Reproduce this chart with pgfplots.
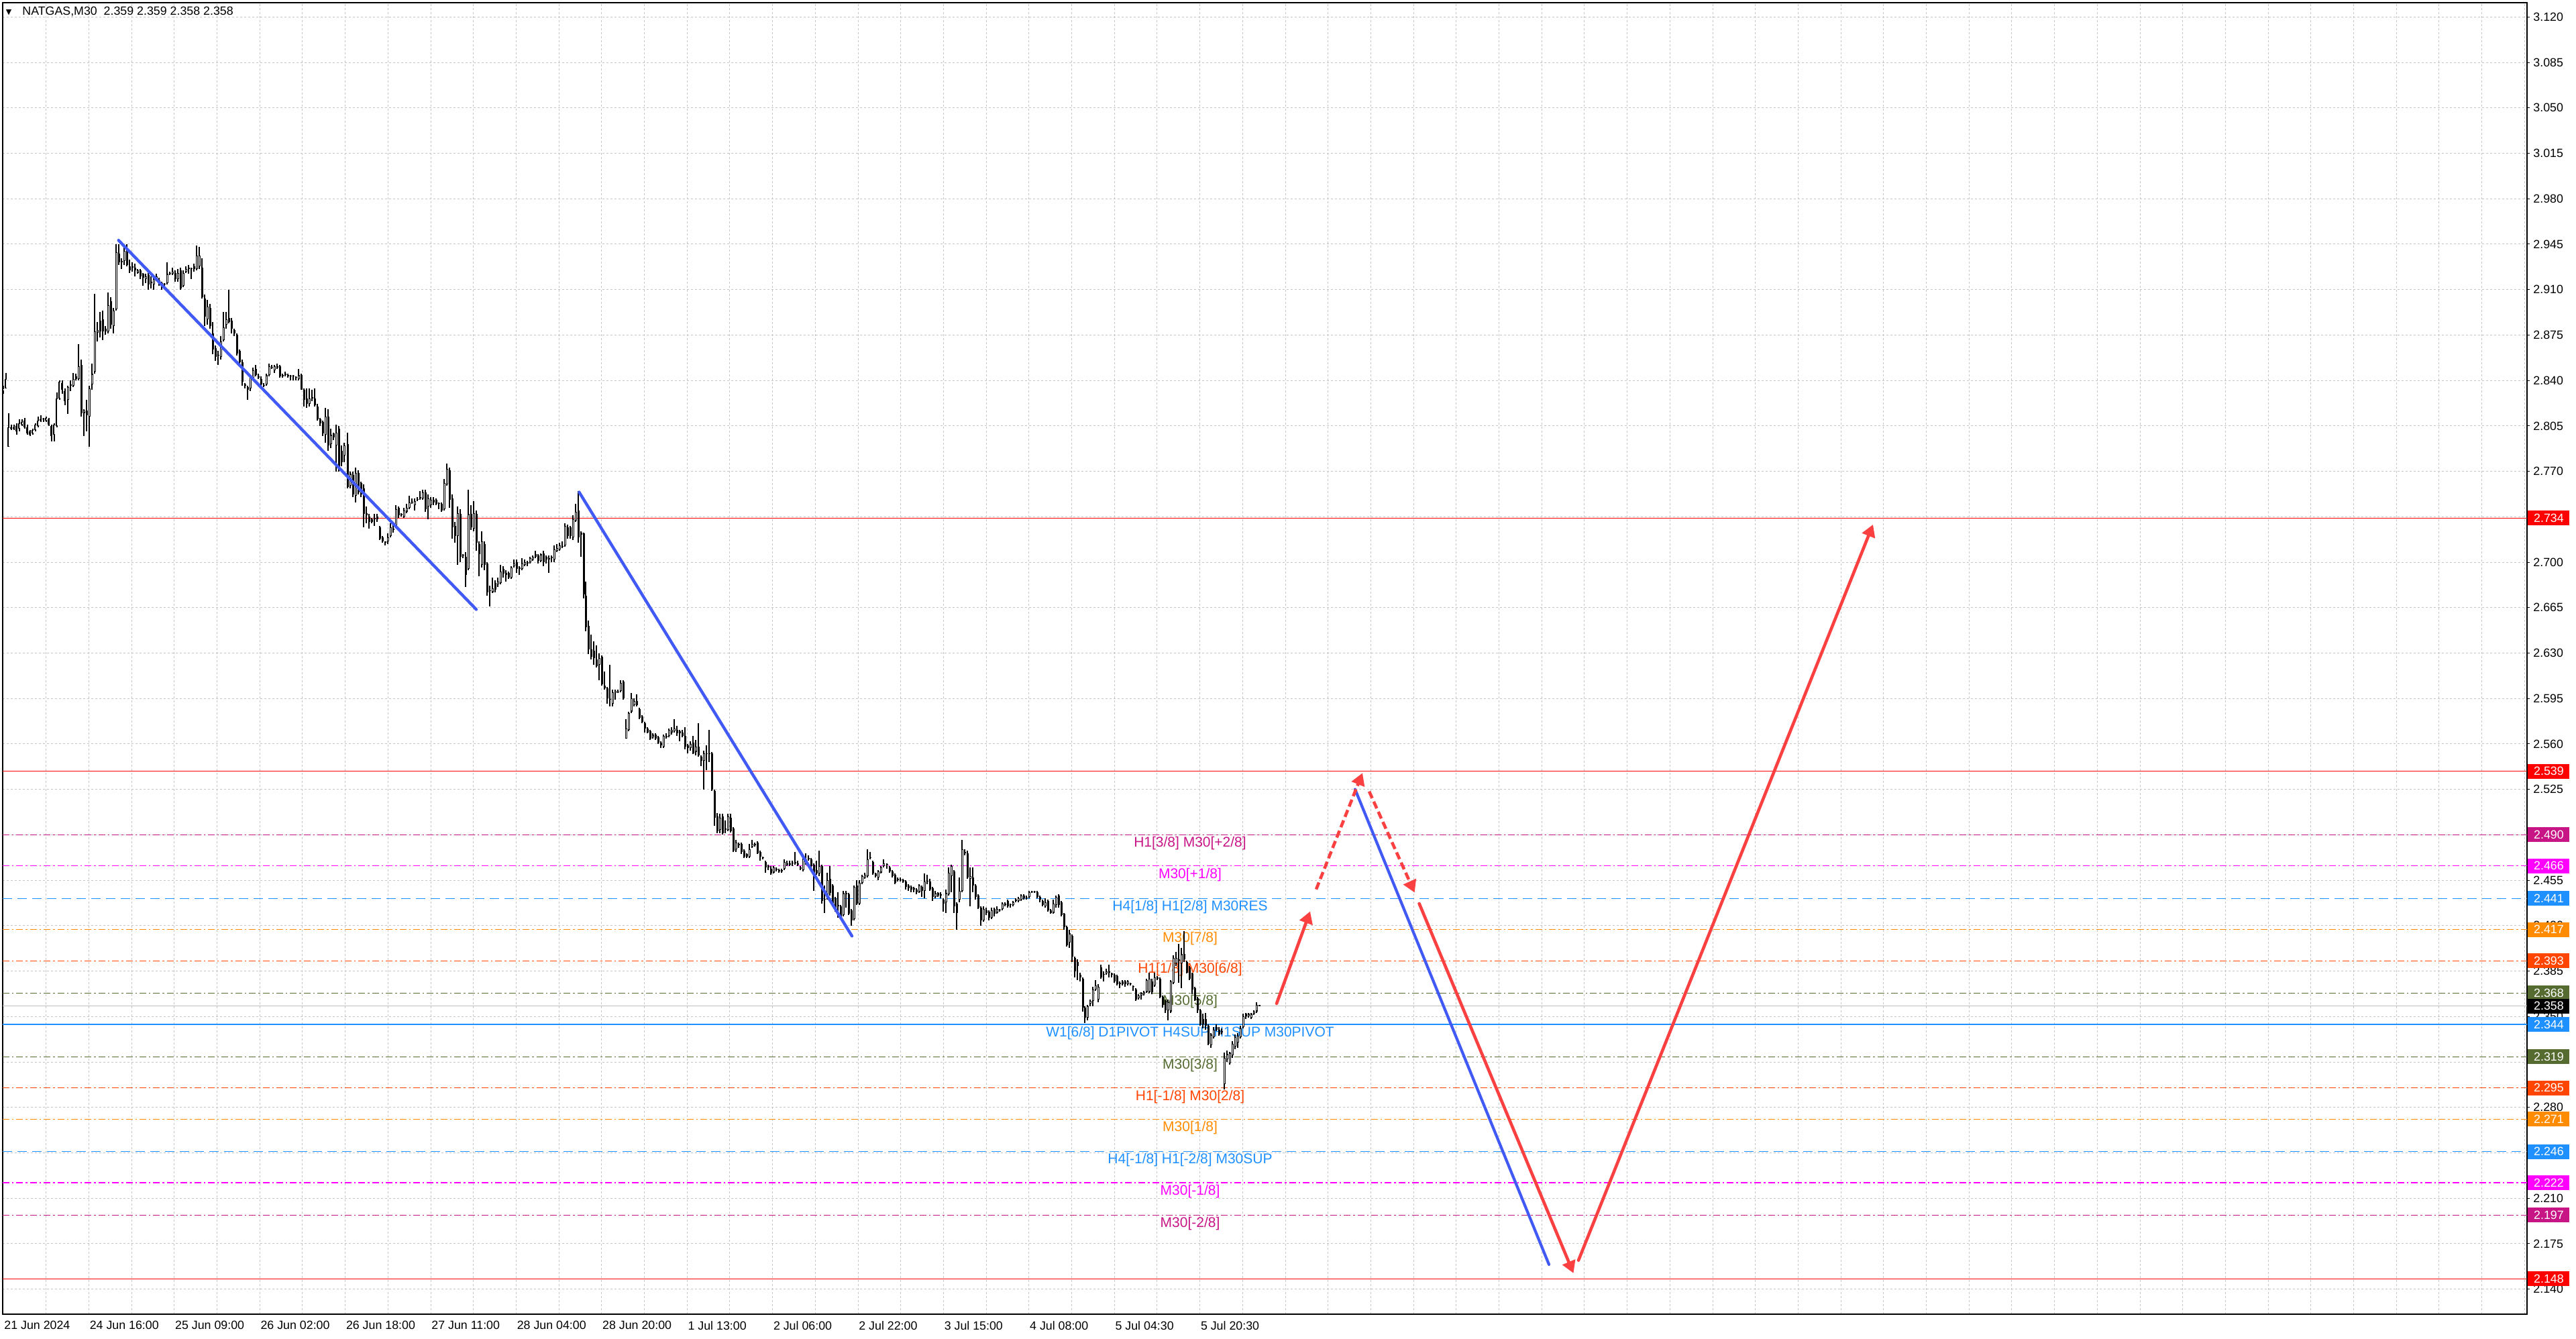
\documentclass[border=0pt]{standalone}
\usepackage{pgfplots}
\pgfplotsset{compat=1.18}
\usepackage{pgfplotstable}
\usepackage{fontspec}
\setmainfont{Liberation Sans}
\newfontfamily\dejavu{DejaVu Sans}
\usetikzlibrary{arrows.meta}
\definecolor{cMVR}{HTML}{C71585}
\definecolor{cMag}{HTML}{FF00FF}
\definecolor{cDB}{HTML}{1E90FF}
\definecolor{cDO}{HTML}{FF8C00}
\definecolor{cOR}{HTML}{FF4500}
\definecolor{cDOG}{HTML}{556B2F}
\definecolor{cRed}{HTML}{FF0000}
\definecolor{cBid}{HTML}{C0C0C0}
\definecolor{cGrid}{HTML}{C4C4C4}
\definecolor{arRed}{RGB}{250,64,64}
\definecolor{arBlue}{RGB}{66,90,245}
\newcommand\axfont{\fontsize{8.9pt}{10pt}\selectfont}
\newcommand\lvfont{\fontsize{10.5pt}{12pt}\selectfont}
\tikzset{dd/.style={line width=0.6pt, dash pattern=on 5pt off 2pt on 1.2pt off 2pt},
         ld/.style={line width=0.6pt, dash pattern=on 7pt off 4pt}}

\pgfplotstableread{
x o h l c
5 2.832 2.836 2.830 2.834
9 2.834 2.846 2.834 2.841
13 2.789 2.815 2.789 2.804
17 2.804 2.806 2.802 2.803
21 2.803 2.806 2.802 2.804
25 2.805 2.807 2.798 2.801
29 2.803 2.810 2.801 2.807
33 2.806 2.810 2.805 2.808
37 2.809 2.811 2.803 2.804
41 2.804 2.806 2.798 2.799
45 2.801 2.802 2.797 2.798
49 2.799 2.803 2.798 2.802
53 2.802 2.807 2.801 2.806
57 2.805 2.812 2.804 2.809
61 2.809 2.813 2.808 2.810
65 2.810 2.811 2.808 2.810
69 2.809 2.812 2.808 2.811
73 2.810 2.811 2.805 2.806
77 2.805 2.806 2.793 2.797
81 2.798 2.807 2.793 2.806
85 2.805 2.831 2.804 2.826
89 2.826 2.840 2.825 2.839
93 2.838 2.840 2.830 2.833
97 2.832 2.834 2.821 2.824
101 2.825 2.836 2.814 2.835
105 2.836 2.840 2.832 2.837
109 2.836 2.846 2.835 2.841
113 2.843 2.845 2.840 2.841
117 2.841 2.868 2.840 2.851
121 2.852 2.856 2.812 2.815
125 2.815 2.818 2.797 2.817
129 2.817 2.825 2.801 2.813
133 2.812 2.836 2.789 2.834
137 2.837 2.853 2.833 2.845
141 2.847 2.907 2.845 2.878
145 2.877 2.885 2.870 2.879
149 2.886 2.893 2.873 2.878
153 2.887 2.894 2.871 2.878
157 2.880 2.882 2.875 2.878
161 2.878 2.908 2.876 2.898
165 2.901 2.904 2.880 2.883
169 2.882 2.896 2.876 2.894
173 2.895 2.945 2.894 2.939
177 2.938 2.945 2.929 2.931
181 2.932 2.934 2.926 2.931
185 2.932 2.943 2.929 2.940
189 2.940 2.945 2.928 2.929
193 2.928 2.933 2.923 2.925
197 2.927 2.931 2.924 2.928
201 2.927 2.930 2.920 2.925
205 2.923 2.926 2.922 2.925
209 2.925 2.926 2.918 2.920
213 2.922 2.923 2.913 2.919
217 2.918 2.922 2.915 2.920
221 2.921 2.923 2.910 2.914
225 2.915 2.920 2.911 2.916
229 2.914 2.920 2.910 2.918
233 2.918 2.922 2.917 2.920
237 2.917 2.919 2.913 2.916
241 2.915 2.916 2.910 2.913
245 2.914 2.915 2.912 2.914
249 2.915 2.931 2.914 2.922
253 2.923 2.924 2.921 2.922
257 2.922 2.927 2.921 2.924
261 2.923 2.925 2.916 2.918
265 2.918 2.926 2.916 2.923
269 2.925 2.927 2.910 2.911
273 2.913 2.925 2.912 2.923
277 2.924 2.928 2.923 2.926
281 2.926 2.929 2.922 2.927
285 2.926 2.927 2.918 2.926
289 2.928 2.930 2.924 2.926
293 2.926 2.944 2.925 2.936
297 2.928 2.943 2.926 2.936
301 2.927 2.934 2.903 2.904
305 2.903 2.906 2.882 2.889
309 2.887 2.902 2.883 2.897
313 2.896 2.899 2.880 2.882
317 2.876 2.885 2.860 2.864
321 2.865 2.867 2.855 2.858
325 2.859 2.863 2.852 2.859
329 2.858 2.874 2.856 2.870
333 2.871 2.893 2.870 2.881
337 2.883 2.893 2.880 2.887
341 2.888 2.910 2.884 2.885
345 2.886 2.888 2.876 2.880
349 2.879 2.880 2.874 2.876
353 2.875 2.876 2.859 2.861
357 2.863 2.864 2.851 2.854
361 2.854 2.856 2.836 2.839
365 2.837 2.838 2.834 2.836
369 2.835 2.836 2.825 2.833
373 2.834 2.844 2.832 2.842
377 2.842 2.850 2.841 2.848
381 2.849 2.852 2.843 2.844
385 2.843 2.845 2.841 2.842
389 2.841 2.843 2.836 2.837
393 2.836 2.838 2.835 2.836
397 2.837 2.845 2.836 2.844
401 2.844 2.853 2.843 2.851
405 2.850 2.852 2.849 2.850
409 2.848 2.852 2.846 2.851
413 2.850 2.853 2.849 2.851
417 2.851 2.852 2.842 2.843
421 2.843 2.845 2.842 2.844
425 2.844 2.847 2.843 2.845
429 2.844 2.845 2.842 2.843
433 2.843 2.844 2.840 2.843
437 2.843 2.844 2.840 2.843
441 2.842 2.843 2.840 2.842
445 2.841 2.849 2.840 2.844
449 2.844 2.845 2.833 2.833
453 2.833 2.834 2.820 2.825
457 2.826 2.834 2.819 2.822
461 2.822 2.834 2.820 2.826
465 2.827 2.833 2.824 2.826
469 2.826 2.834 2.820 2.821
473 2.820 2.822 2.809 2.810
477 2.810 2.811 2.805 2.807
481 2.808 2.809 2.797 2.799
485 2.798 2.819 2.792 2.812
489 2.812 2.818 2.786 2.790
493 2.791 2.803 2.788 2.798
497 2.799 2.800 2.794 2.796
501 2.790 2.806 2.770 2.800
505 2.803 2.805 2.770 2.771
509 2.786 2.790 2.774 2.777
513 2.782 2.792 2.777 2.790
518 2.791 2.800 2.757 2.758
522 2.759 2.770 2.757 2.768
526 2.767 2.770 2.750 2.752
530 2.751 2.773 2.746 2.769
534 2.769 2.771 2.752 2.754
538 2.761 2.762 2.750 2.752
542 2.757 2.760 2.727 2.737
546 2.738 2.743 2.730 2.736
550 2.735 2.737 2.726 2.731
554 2.733 2.734 2.730 2.731
558 2.733 2.737 2.728 2.734
562 2.735 2.737 2.731 2.733
566 2.727 2.728 2.717 2.718
570 2.719 2.720 2.715 2.716
574 2.716 2.716 2.713 2.715
578 2.716 2.722 2.714 2.719
582 2.720 2.730 2.719 2.727
586 2.725 2.730 2.723 2.726
590 2.728 2.744 2.727 2.741
594 2.742 2.743 2.734 2.736
598 2.737 2.738 2.735 2.736
602 2.735 2.742 2.734 2.740
606 2.739 2.745 2.738 2.742
610 2.742 2.751 2.741 2.746
614 2.746 2.749 2.745 2.746
618 2.744 2.749 2.740 2.747
622 2.748 2.750 2.747 2.748
626 2.749 2.755 2.748 2.750
630 2.749 2.756 2.748 2.754
634 2.754 2.756 2.739 2.741
638 2.743 2.752 2.733 2.749
642 2.744 2.750 2.742 2.748
646 2.748 2.750 2.744 2.746
650 2.748 2.749 2.744 2.745
654 2.745 2.746 2.741 2.745
658 2.745 2.746 2.739 2.740
662 2.741 2.764 2.740 2.761
666 2.760 2.776 2.759 2.772
670 2.771 2.773 2.742 2.748
674 2.749 2.752 2.718 2.727
678 2.728 2.731 2.715 2.720
682 2.720 2.743 2.698 2.738
686 2.737 2.741 2.700 2.704
690 2.705 2.706 2.703 2.705
694 2.704 2.708 2.681 2.690
698 2.695 2.756 2.694 2.737
702 2.737 2.744 2.725 2.727
706 2.726 2.747 2.724 2.738
710 2.737 2.740 2.709 2.715
714 2.714 2.716 2.689 2.706
718 2.698 2.724 2.696 2.716
722 2.714 2.716 2.694 2.698
726 2.699 2.700 2.674 2.677
730 2.678 2.682 2.666 2.678
734 2.677 2.688 2.676 2.680
738 2.684 2.686 2.677 2.679
742 2.683 2.688 2.681 2.685
746 2.684 2.698 2.683 2.693
750 2.695 2.697 2.688 2.691
754 2.692 2.694 2.685 2.690
758 2.692 2.693 2.687 2.688
762 2.688 2.697 2.687 2.696
766 2.697 2.702 2.696 2.699
770 2.700 2.702 2.692 2.695
774 2.695 2.697 2.690 2.696
778 2.695 2.703 2.694 2.699
782 2.698 2.702 2.697 2.700
786 2.700 2.701 2.697 2.699
790 2.700 2.704 2.699 2.703
794 2.702 2.705 2.701 2.704
798 2.706 2.709 2.703 2.704
802 2.705 2.706 2.699 2.701
806 2.701 2.707 2.700 2.706
810 2.707 2.709 2.697 2.700
814 2.704 2.705 2.699 2.702
818 2.702 2.705 2.692 2.703
822 2.704 2.705 2.700 2.703
826 2.702 2.713 2.700 2.710
830 2.709 2.714 2.708 2.711
834 2.710 2.715 2.709 2.713
838 2.712 2.716 2.711 2.712
842 2.713 2.730 2.712 2.728
846 2.727 2.729 2.718 2.720
850 2.727 2.728 2.718 2.720
854 2.719 2.736 2.717 2.733
858 2.732 2.745 2.731 2.739
862 2.740 2.755 2.715 2.719
866 2.723 2.724 2.704 2.721
870 2.722 2.723 2.672 2.675
873 2.674 2.685 2.647 2.650
877 2.651 2.655 2.629 2.633
881 2.633 2.644 2.625 2.627
885 2.632 2.639 2.621 2.626
889 2.625 2.636 2.619 2.620
893 2.621 2.630 2.609 2.626
897 2.627 2.628 2.605 2.606
901 2.605 2.616 2.602 2.603
905 2.603 2.604 2.591 2.595
909 2.594 2.621 2.589 2.594
913 2.591 2.602 2.589 2.600
917 2.599 2.602 2.594 2.601
921 2.600 2.602 2.599 2.600
925 2.601 2.609 2.600 2.607
929 2.608 2.609 2.594 2.595
933 2.564 2.579 2.564 2.572
937 2.571 2.585 2.570 2.584
941 2.585 2.599 2.584 2.595
945 2.590 2.595 2.589 2.593
949 2.593 2.598 2.589 2.590
953 2.587 2.588 2.579 2.580
957 2.581 2.582 2.576 2.577
961 2.576 2.577 2.569 2.572
965 2.572 2.573 2.568 2.569
969 2.570 2.571 2.563 2.564
973 2.565 2.568 2.564 2.567
977 2.567 2.568 2.563 2.564
981 2.565 2.566 2.560 2.561
985 2.561 2.562 2.557 2.559
989 2.558 2.567 2.557 2.566
993 2.565 2.568 2.564 2.566
997 2.566 2.572 2.565 2.571
1001 2.569 2.573 2.567 2.571
1005 2.570 2.579 2.569 2.572
1009 2.571 2.574 2.566 2.568
1013 2.570 2.571 2.562 2.568
1017 2.569 2.571 2.565 2.566
1021 2.566 2.573 2.556 2.558
1025 2.559 2.560 2.553 2.557
1029 2.557 2.562 2.555 2.560
1033 2.561 2.566 2.552 2.553
1037 2.554 2.563 2.551 2.558
1041 2.558 2.576 2.550 2.551
1045 2.550 2.551 2.543 2.547
1049 2.547 2.555 2.525 2.553
1053 2.552 2.559 2.540 2.552
1057 2.552 2.571 2.546 2.552
1061 2.553 2.554 2.524 2.525
1065 2.524 2.525 2.497 2.503
1069 2.504 2.507 2.491 2.493
1073 2.494 2.506 2.491 2.503
1077 2.504 2.506 2.490 2.491
1081 2.494 2.501 2.491 2.495
1085 2.494 2.506 2.493 2.504
1089 2.503 2.506 2.492 2.493
1093 2.495 2.496 2.477 2.478
1097 2.479 2.486 2.477 2.484
1101 2.482 2.484 2.480 2.483
1105 2.483 2.484 2.475 2.477
1109 2.478 2.479 2.472 2.473
1113 2.475 2.476 2.472 2.473
1117 2.473 2.483 2.472 2.479
1121 2.481 2.486 2.480 2.483
1125 2.482 2.484 2.481 2.483
1129 2.484 2.485 2.475 2.476
1133 2.477 2.478 2.470 2.473
1137 2.472 2.473 2.471 2.472
1141 2.469 2.470 2.461 2.465
1145 2.466 2.467 2.463 2.465
1149 2.464 2.466 2.459 2.460
1153 2.461 2.466 2.460 2.465
1157 2.464 2.465 2.462 2.463
1161 2.462 2.464 2.461 2.463
1165 2.462 2.464 2.461 2.463
1169 2.464 2.471 2.463 2.469
1173 2.467 2.470 2.466 2.468
1177 2.468 2.470 2.466 2.467
1181 2.468 2.470 2.466 2.468
1185 2.469 2.477 2.467 2.468
1189 2.468 2.470 2.466 2.467
1193 2.465 2.466 2.463 2.464
1197 2.463 2.472 2.462 2.471
1201 2.471 2.476 2.467 2.468
1205 2.471 2.474 2.470 2.472
1209 2.471 2.472 2.463 2.466
1213 2.467 2.468 2.447 2.458
1217 2.463 2.470 2.459 2.460
1221 2.460 2.478 2.458 2.466
1225 2.466 2.467 2.437 2.439
1229 2.440 2.451 2.430 2.440
1233 2.441 2.461 2.440 2.455
1237 2.456 2.466 2.443 2.445
1241 2.451 2.452 2.435 2.437
1245 2.441 2.442 2.431 2.432
1249 2.436 2.446 2.426 2.435
1253 2.435 2.436 2.425 2.426
1257 2.428 2.447 2.427 2.445
1261 2.444 2.447 2.434 2.445
1265 2.444 2.445 2.428 2.429
1269 2.432 2.433 2.420 2.424
1273 2.425 2.451 2.424 2.450
1277 2.451 2.455 2.436 2.437
1281 2.437 2.455 2.436 2.453
1285 2.453 2.459 2.452 2.458
1289 2.457 2.461 2.456 2.459
1293 2.458 2.479 2.457 2.471
1297 2.472 2.477 2.471 2.472
1301 2.469 2.470 2.459 2.460
1305 2.460 2.461 2.457 2.458
1309 2.457 2.463 2.455 2.462
1313 2.461 2.466 2.460 2.465
1317 2.466 2.471 2.465 2.468
1322 2.467 2.468 2.464 2.467
1326 2.465 2.466 2.461 2.462
1330 2.462 2.463 2.457 2.458
1334 2.459 2.460 2.452 2.453
1338 2.455 2.457 2.454 2.456
1342 2.455 2.457 2.454 2.455
1346 2.455 2.456 2.453 2.454
1350 2.454 2.455 2.448 2.450
1354 2.451 2.452 2.447 2.449
1358 2.450 2.451 2.446 2.448
1362 2.448 2.450 2.446 2.449
1366 2.448 2.449 2.444 2.446
1370 2.446 2.452 2.445 2.451
1374 2.450 2.451 2.442 2.447
1378 2.447 2.460 2.441 2.454
1382 2.454 2.459 2.452 2.454
1386 2.454 2.456 2.447 2.448
1390 2.449 2.450 2.439 2.442
1394 2.442 2.447 2.441 2.445
1398 2.445 2.446 2.442 2.443
1402 2.443 2.446 2.441 2.444
1406 2.440 2.441 2.431 2.437
1410 2.438 2.448 2.430 2.445
1414 2.444 2.465 2.443 2.461
1418 2.458 2.467 2.446 2.466
1422 2.462 2.463 2.430 2.435
1426 2.437 2.438 2.417 2.430
1430 2.440 2.457 2.438 2.447
1434 2.447 2.486 2.446 2.479
1438 2.476 2.479 2.474 2.477
1442 2.476 2.478 2.456 2.457
1446 2.456 2.465 2.435 2.458
1450 2.457 2.465 2.446 2.451
1454 2.451 2.452 2.440 2.442
1458 2.443 2.444 2.433 2.434
1462 2.434 2.435 2.420 2.424
1466 2.424 2.435 2.423 2.433
1470 2.432 2.434 2.428 2.430
1474 2.431 2.432 2.424 2.426
1478 2.426 2.434 2.425 2.432
1482 2.433 2.434 2.427 2.429
1486 2.430 2.435 2.429 2.433
1490 2.432 2.433 2.431 2.432
1494 2.433 2.438 2.432 2.437
1498 2.436 2.438 2.435 2.437
1502 2.439 2.440 2.434 2.435
1506 2.436 2.437 2.434 2.436
1510 2.436 2.439 2.435 2.438
1514 2.440 2.441 2.438 2.439
1518 2.439 2.442 2.438 2.441
1522 2.440 2.444 2.439 2.443
1526 2.443 2.444 2.440 2.441
1530 2.441 2.443 2.440 2.441
1534 2.442 2.447 2.441 2.446
1538 2.446 2.447 2.445 2.446
1542 2.446 2.447 2.445 2.446
1546 2.446 2.447 2.441 2.442
1550 2.442 2.443 2.438 2.440
1554 2.439 2.440 2.435 2.436
1558 2.435 2.441 2.434 2.438
1562 2.439 2.440 2.431 2.432
1566 2.432 2.433 2.429 2.430
1570 2.430 2.440 2.429 2.437
1574 2.436 2.443 2.434 2.442
1578 2.443 2.444 2.434 2.436
1582 2.438 2.439 2.427 2.428
1586 2.429 2.430 2.417 2.419
1590 2.419 2.420 2.404 2.405
1594 2.407 2.417 2.403 2.414
1598 2.412 2.413 2.392 2.396
1602 2.395 2.396 2.380 2.385
1606 2.392 2.394 2.378 2.389
1610 2.382 2.384 2.377 2.380
1614 2.379 2.380 2.354 2.357
1617 2.357 2.358 2.345 2.349
1621 2.349 2.359 2.347 2.358
1625 2.360 2.363 2.358 2.362
1629 2.362 2.373 2.358 2.371
1633 2.371 2.378 2.370 2.374
1637 2.363 2.375 2.361 2.373
1641 2.388 2.390 2.379 2.380
1645 2.382 2.385 2.377 2.382
1649 2.383 2.387 2.382 2.385
1653 2.384 2.390 2.380 2.385
1657 2.383 2.384 2.380 2.382
1661 2.382 2.383 2.376 2.377
1665 2.381 2.382 2.374 2.375
1669 2.376 2.377 2.372 2.375
1673 2.377 2.378 2.374 2.375
1677 2.377 2.378 2.373 2.375
1681 2.375 2.378 2.374 2.377
1685 2.375 2.376 2.374 2.375
1689 2.373 2.374 2.370 2.373
1693 2.371 2.372 2.362 2.363
1697 2.364 2.367 2.363 2.366
1701 2.366 2.369 2.363 2.368
1705 2.367 2.370 2.366 2.369
1709 2.369 2.379 2.368 2.378
1713 2.369 2.384 2.368 2.379
1717 2.377 2.379 2.367 2.369
1721 2.374 2.384 2.373 2.380
1725 2.380 2.381 2.378 2.379
1729 2.379 2.380 2.364 2.365
1733 2.365 2.366 2.357 2.359
1737 2.362 2.363 2.353 2.355
1741 2.355 2.363 2.347 2.361
1745 2.354 2.378 2.353 2.377
1749 2.376 2.397 2.375 2.395
1753 2.391 2.400 2.389 2.395
1757 2.393 2.406 2.376 2.394
1761 2.391 2.403 2.372 2.398
1765 2.398 2.416 2.392 2.394
1769 2.392 2.393 2.383 2.384
1773 2.388 2.389 2.378 2.379
1777 2.383 2.384 2.367 2.371
1781 2.372 2.373 2.362 2.363
1785 2.364 2.365 2.353 2.355
1789 2.355 2.356 2.343 2.344
1793 2.348 2.352 2.341 2.344
1797 2.348 2.353 2.340 2.343
1801 2.343 2.344 2.328 2.329
1805 2.328 2.337 2.326 2.336
1809 2.334 2.342 2.333 2.340
1813 2.342 2.344 2.339 2.340
1817 2.340 2.342 2.335 2.336
1821 2.339 2.341 2.336 2.338
1825 2.298 2.322 2.294 2.318
1829 2.317 2.324 2.315 2.321
1833 2.314 2.323 2.313 2.322
1837 2.320 2.331 2.318 2.329
1841 2.327 2.336 2.325 2.334
1845 2.330 2.337 2.326 2.335
1849 2.334 2.343 2.333 2.341
1853 2.342 2.352 2.341 2.350
1857 2.352 2.353 2.348 2.350
1861 2.350 2.353 2.349 2.352
1865 2.349 2.353 2.348 2.352
1869 2.352 2.355 2.351 2.354
1873 2.354 2.361 2.353 2.359
1877 2.359 2.359 2.358 2.358
}\candles

\begin{document}
\begin{tikzpicture}
\begin{axis}[
  at={(0,0)}, anchor=south west,
  scale only axis, width=1881.5pt, height=977.5pt,
  xmin=4, xmax=3767, ymin=2.12071, ymax=3.13105,
  clip=false,
  axis line style={black, line width=0.6pt},
  /pgf/number format/assume math mode=true,
  xtick={5,68.7,...,3767}, xticklabels={},
  xtick style={draw=none},
  extra x ticks={5,132.4,259.8,387.2,514.6,642,769.4,896.8,1024.2,1151.6,1279,1406.4,1533.8,1661.2,1788.6},
  extra x tick labels={21 Jun 2024,24 Jun 16:00,25 Jun 09:00,26 Jun 02:00,26 Jun 18:00,27 Jun 11:00,28 Jun 04:00,28 Jun 20:00,1 Jul 13:00,2 Jul 06:00,2 Jul 22:00,3 Jul 15:00,4 Jul 08:00,5 Jul 04:30,5 Jul 20:30},
  extra x tick style={grid=none},
  xticklabel style={font=\axfont, anchor=north west, inner sep=0pt, xshift=0.5pt, yshift=-3pt},
  ytick={2.140,2.175,2.210,2.245,2.280,2.315,2.350,2.385,2.420,2.455,2.490,2.525,2.560,2.595,2.630,2.665,2.700,2.735,2.770,2.805,2.840,2.875,2.910,2.945,2.980,3.015,3.050,3.085,3.120},
  yticklabels={2.140,2.175,2.210,,2.280,,2.350,2.385,2.420,2.455,,2.525,2.560,2.595,2.630,2.665,2.700,2.735,2.770,2.805,2.840,2.875,2.910,2.945,2.980,3.015,3.050,3.085,3.120},
  ytick pos=right, yticklabel pos=right,
  tick align=outside, major tick length=2pt,
  ytick style={black, line width=0.5pt},
  yticklabel style={font=\axfont, anchor=west, inner sep=0pt, xshift=2.5pt},
  xmajorgrids, ymajorgrids,
  grid style={draw=cGrid, line width=0.5pt, dash pattern=on 1.5pt off 1.5pt},
]
% level lines
\addplot[cRed, line width=0.5pt] coordinates {(4,2.734) (3767,2.734)};
\addplot[cRed, line width=0.5pt] coordinates {(4,2.539) (3767,2.539)};
\addplot[cMVR, dd] coordinates {(4,2.490) (3767,2.490)};
\addplot[cMag, dd] coordinates {(4,2.466) (3767,2.466)};
\addplot[cDB, ld] coordinates {(4,2.441) (3767,2.441)};
\addplot[cDO, dd] coordinates {(4,2.417) (3767,2.417)};
\addplot[cOR, dd] coordinates {(4,2.393) (3767,2.393)};
\addplot[cDOG, dd] coordinates {(4,2.368) (3767,2.368)};
\addplot[cBid, line width=0.5pt] coordinates {(4,2.358) (3767,2.358)};
\addplot[cDB, line width=0.6pt] coordinates {(4,2.344) (3767,2.344)};
\addplot[cDOG, dd] coordinates {(4,2.319) (3767,2.319)};
\addplot[cOR, dd] coordinates {(4,2.295) (3767,2.295)};
\addplot[cDO, dd] coordinates {(4,2.271) (3767,2.271)};
\addplot[cDB, ld] coordinates {(4,2.246) (3767,2.246)};
\addplot[cMag, dd] coordinates {(4,2.222) (3767,2.222)};
\addplot[cMVR, dd] coordinates {(4,2.197) (3767,2.197)};
\addplot[cRed, line width=0.5pt] coordinates {(4,2.148) (3767,2.148)};
% level texts
\begin{scope}[every node/.style={font=\lvfont, anchor=base, yshift=-9.2pt, inner sep=0pt}]
\node[text=cMVR] at (axis cs:1774,2.490) {H1[3/8] M30[+2/8]};
\node[text=cMag] at (axis cs:1774,2.466) {M30[+1/8]};
\node[text=cDB] at (axis cs:1774,2.441) {H4[1/8] H1[2/8] M30RES};
\node[text=cDO] at (axis cs:1774,2.417) {M30[7/8]};
\node[text=cOR] at (axis cs:1774,2.393) {H1[1/8] M30[6/8]};
\node[text=cDOG] at (axis cs:1774,2.368) {M30[5/8]};
\node[text=cDB] at (axis cs:1774,2.344) {W1[6/8] D1PIVOT H4SUP H1SUP M30PIVOT};
\node[text=cDOG] at (axis cs:1774,2.319) {M30[3/8]};
\node[text=cOR] at (axis cs:1774,2.295) {H1[-1/8] M30[2/8]};
\node[text=cDO] at (axis cs:1774,2.271) {M30[1/8]};
\node[text=cDB] at (axis cs:1774,2.246) {H4[-1/8] H1[-2/8] M30SUP};
\node[text=cMag] at (axis cs:1774,2.222) {M30[-1/8]};
\node[text=cMVR] at (axis cs:1774,2.197) {M30[-2/8]};
\end{scope}
% candles: wicks, bodies, hollow interiors
\addplot[black, line width=0.6pt, forget plot,
  quiver={u=0, v=\thisrow{h}-\thisrow{l}}]
  table[x=x, y=l] {\candles};
\addplot[black, line width=1.5pt, forget plot,
  quiver={u=0, v={max(abs(\thisrow{c}-\thisrow{o}),0.0005)}}]
  table[x=x, y expr={min(\thisrow{o},\thisrow{c})}] {\candles};
\addplot[white, line width=0.4pt, forget plot,
  quiver={u=0, v=\thisrow{c}-\thisrow{o},
    every arrow/.append style={shorten <=0.55pt, shorten >=0.55pt}}]
  table[x=x, y expr={\thisrow{c}>\thisrow{o}+0.0015 ? \thisrow{o} : nan}] {\candles};
% trend lines
\addplot[arBlue, line width=2.2pt, line cap=round] coordinates {(176.7,2.948) (710,2.6636)};
\addplot[arBlue, line width=2.2pt, line cap=round] coordinates {(863.3,2.754) (1270,2.412)};
\addplot[arBlue, line width=2.1pt, line cap=round] coordinates {(2020,2.525) (2309,2.159)};
% red arrows
\addplot[arRed, line width=2.3pt, line cap=round, -{Triangle[length=9pt,width=10pt]}] coordinates {(1903,2.360) (1953,2.431)};
\addplot[arRed, line width=2.3pt, dash pattern=on 5.5pt off 2.8pt, -{Triangle[length=9pt,width=10pt]}] coordinates {(1962,2.448) (2031,2.5376)};
\addplot[arRed, line width=2.3pt, dash pattern=on 5.5pt off 2.8pt, -{Triangle[length=9pt,width=10pt]}] coordinates {(2041,2.5234) (2108.7,2.4455)};
\addplot[arRed, line width=2.3pt, line cap=round, -{Triangle[length=9pt,width=10pt]}] coordinates {(2115.6,2.437) (2345.5,2.1523)};
\addplot[arRed, line width=2.3pt, line cap=round, -{Triangle[length=9pt,width=10pt]}] coordinates {(2353,2.1622) (2792,2.729)};
% header
\node[anchor=center, inner sep=0pt] at (axis cs:13,3.1233) {\dejavu\fontsize{5.5pt}{6pt}\selectfont ▼};
\node[anchor=west, inner sep=0pt, font=\axfont] at (axis cs:33,3.1243) {NATGAS,M30\ \ 2.359 2.359 2.358 2.358};
% anchor points of the price boxes
\coordinate (p734) at (axis cs:3768,2.734);
\coordinate (p539) at (axis cs:3768,2.539);
\coordinate (p490) at (axis cs:3768,2.490);
\coordinate (p466) at (axis cs:3768,2.466);
\coordinate (p441) at (axis cs:3768,2.441);
\coordinate (p417) at (axis cs:3768,2.417);
\coordinate (p393) at (axis cs:3768,2.393);
\coordinate (p368) at (axis cs:3768,2.368);
\coordinate (p358) at (axis cs:3768,2.358);
\coordinate (p344) at (axis cs:3768,2.344);
\coordinate (p319) at (axis cs:3768,2.319);
\coordinate (p295) at (axis cs:3768,2.295);
\coordinate (p271) at (axis cs:3768,2.271);
\coordinate (p246) at (axis cs:3768,2.246);
\coordinate (p222) at (axis cs:3768,2.222);
\coordinate (p197) at (axis cs:3768,2.197);
\coordinate (p148) at (axis cs:3768,2.148);
\end{axis}
\begin{scope}[every node/.style={font=\axfont, text=white, anchor=west, minimum width=31pt, minimum height=11pt, inner sep=0pt}]
\node[fill=cRed] at (p734) {2.734};
\node[fill=cRed] at (p539) {2.539};
\node[fill=cMVR] at (p490) {2.490};
\node[fill=cMag] at (p466) {2.466};
\node[fill=cDB] at (p441) {2.441};
\node[fill=cDO] at (p417) {2.417};
\node[fill=cOR] at (p393) {2.393};
\node[fill=cDOG] at (p368) {2.368};
\node[fill=black] at (p358) {2.358};
\node[fill=cDB] at (p344) {2.344};
\node[fill=cDOG] at (p319) {2.319};
\node[fill=cOR] at (p295) {2.295};
\node[fill=cDO] at (p271) {2.271};
\node[fill=cDB] at (p246) {2.246};
\node[fill=cMag] at (p222) {2.222};
\node[fill=cMVR] at (p197) {2.197};
\node[fill=cRed] at (p148) {2.148};
\end{scope}
\path (-2pt,-18.5pt) rectangle (1918pt,979.5pt);
\end{tikzpicture}
\end{document}
